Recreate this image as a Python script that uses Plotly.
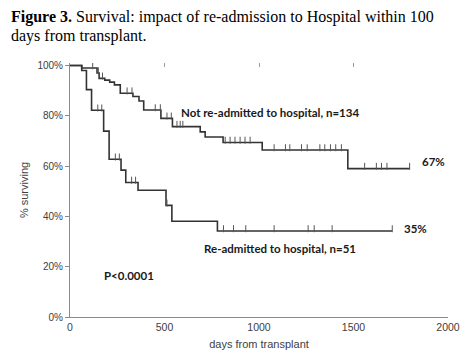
import numpy as np
import plotly.graph_objects as go

# Not re-admitted to hospital (n=134): step times (days) and survival (%)
not_readm_t = [0, 62, 143, 154, 184, 210, 235, 266, 333, 365, 390, 481, 542, 689, 715, 810, 1017, 1470]
not_readm_s = [100, 99.0, 97.0, 94.9, 94.2, 93.4, 92.3, 89.0, 87.7, 85.9, 82.3, 79.0, 75.7, 73.6, 71.6, 69.4, 66.4, 59.0]
not_readm_end = 1797
not_readm_cens = [120, 150, 172, 302, 328, 451, 478, 513, 536, 566, 583, 597, 821, 847, 873, 900, 926, 953,
                  1080, 1140, 1163, 1225, 1255, 1322, 1348, 1378, 1406, 1436, 1559, 1621, 1648, 1677, 1797]

# Re-admitted to hospital (n=51)
readm_t = [0, 62, 87, 114, 178, 207, 270, 295, 360, 508, 539, 780]
readm_s = [100, 98.0, 90.4, 82.2, 73.9, 62.7, 58.4, 53.5, 50.4, 44.4, 38.1, 34.2]
readm_end = 1705
readm_cens = [147, 168, 240, 261, 326, 347, 513, 812, 865, 930, 1080, 1260, 1292, 1387, 1705]

x_ticks = [0, 500, 1000, 1500, 2000]
y_ticks = [0, 20, 40, 60, 80, 100]
y_ticklabels = ["0%", "20%", "40%", "60%", "80%", "100%"]

LINE_COLOR = "#333333"
AXIS_COLOR = "#8a8a8a"
TEXT_COLOR = "#404040"

W, H = 467, 353
ML, MR, MT, MB = 69.5, 19, 62.8, 36


def step_value(times, surv, t):
    i = np.searchsorted(np.array(times), t, side="right") - 1
    return surv[max(i, 0)]


fig = go.Figure()
for times, surv, end, cens in [
    (not_readm_t, not_readm_s, not_readm_end, not_readm_cens),
    (readm_t, readm_s, readm_end, readm_cens),
]:
    xs = list(times) + [end]
    ys = list(surv) + [surv[-1]]
    fig.add_trace(go.Scatter(x=xs, y=ys, mode="lines", line=dict(color=LINE_COLOR, width=1.6, shape="hv"),
                             hoverinfo="skip", showlegend=False))
    cy = [step_value(times, surv, c) + 0.9 for c in cens]
    fig.add_trace(go.Scatter(x=cens, y=cy, mode="markers",
                             marker=dict(symbol="line-ns", size=5, line=dict(color="#555555", width=1)),
                             hoverinfo="skip", showlegend=False))

# dummy trace for top axis ticks
fig.add_trace(go.Scatter(x=[0, 2000], y=[None, None], xaxis="x2", yaxis="y", showlegend=False,
                         hoverinfo="skip"))

label_font = dict(family="Lato, 'Open Sans', sans-serif", size=11.5, color="#1a1a1a")
annots = [
    dict(x=578, y=81.4, text="<b>Not re-admitted to hospital, n=134</b>"),
    dict(x=699, y=27.3, text="<b>Re-admitted to hospital, n=51</b>"),
    dict(x=1850, y=61.9, text="<b>67%</b>"),
    dict(x=1755, y=35.3, text="<b>35%</b>"),
    dict(x=171, y=16.6, text="<b>P<0.0001</b>"),
]
for a in annots:
    fig.add_annotation(x=a["x"], y=a["y"], text=a["text"], showarrow=False, xanchor="left",
                       yanchor="middle", font=label_font, xref="x", yref="y")

# Title (two lines), placed in paper coordinates above the plot
title_font = dict(family="Liberation Serif, 'Times New Roman', serif", size=16, color="#000000")
pw = W - ML - MR
ph = H - MT - MB
title_x = (8 - ML) / pw
for text, py in [("<b>Figure 3.</b> Survival: impact of re-admission to Hospital within 100", 16.5),
                 ("days from transplant.", 36)]:
    fig.add_annotation(text=text, x=title_x, y=1 + (MT - py) / ph, xref="paper", yref="paper",
                       xanchor="left", yanchor="middle", showarrow=False, font=title_font)

axis_font = dict(family="Liberation Sans, Arial, sans-serif", size=11, color=TEXT_COLOR)
fig.update_layout(
    width=W, height=H,
    margin=dict(l=ML, r=MR, t=MT, b=MB, autoexpand=False),
    paper_bgcolor="white", plot_bgcolor="white",
    xaxis=dict(range=[0, 2000], tickvals=x_ticks, ticks="", showgrid=False, zeroline=False,
               showline=True, linecolor=AXIS_COLOR, linewidth=1, automargin=False,
               tickfont=dict(family="Liberation Sans, Arial, sans-serif", size=10.5, color=TEXT_COLOR),
               title=dict(text="days from transplant", standoff=8, font=axis_font)),
    xaxis2=dict(range=[0, 2000], overlaying="x", side="top", tickvals=[500, 1000, 1500, 2000],
                ticks="inside", ticklen=4, tickcolor="#9a9a9a", showticklabels=False, automargin=False,
                showgrid=False, zeroline=False, showline=False),
    yaxis=dict(range=[0, 101], tickvals=y_ticks, ticktext=y_ticklabels, ticks="outside", ticklen=4,
               tickcolor=AXIS_COLOR, showgrid=False, zeroline=False, showline=True, automargin=False,
               linecolor=AXIS_COLOR, linewidth=1,
               tickfont=dict(family="Liberation Sans, Arial, sans-serif", size=10, color=TEXT_COLOR),
               title=dict(text="% surviving", standoff=6, font=axis_font)),
)

fig.write_html("out.html")
